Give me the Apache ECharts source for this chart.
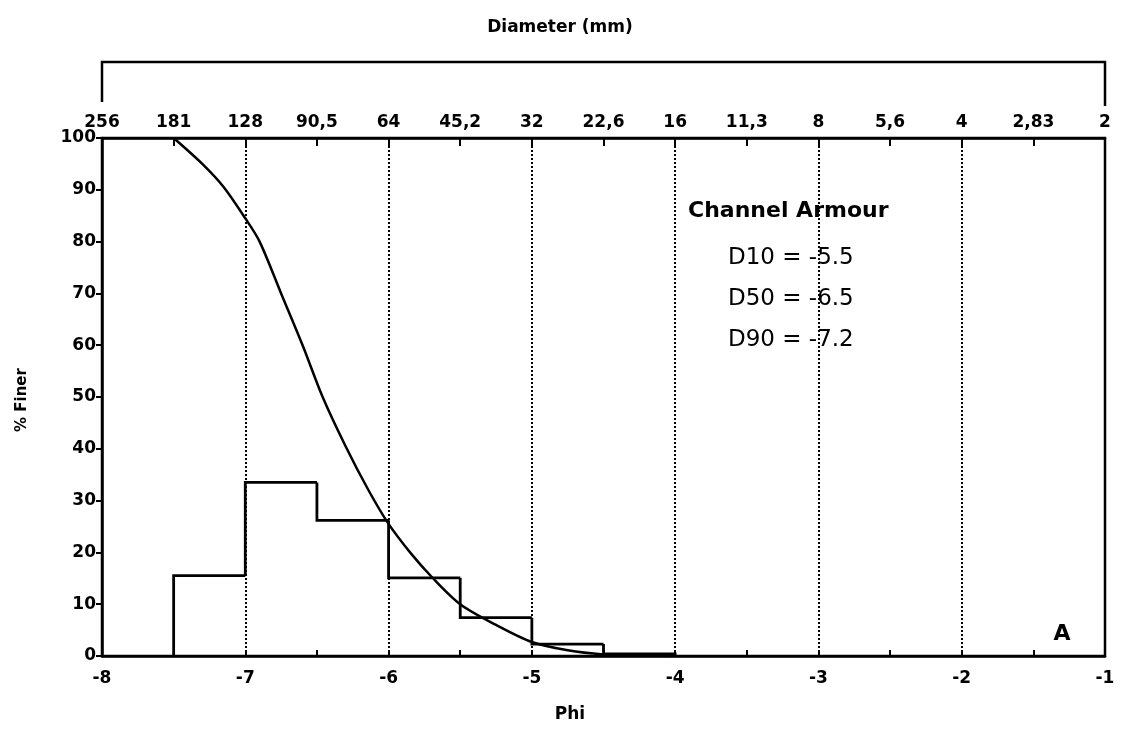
<!DOCTYPE html>
<html>
<head>
<meta charset="utf-8">
<script src="https://cdn.jsdelivr.net/npm/echarts@6/dist/echarts.min.js"></script>
<style>
html,body{margin:0;padding:0;background:#fff;}
#chart{width:1121px;height:737px;}
</style>
</head>
<body>
<div id="chart"></div>
<script>
// ---- data ----
var diameterLabels = ['256','181','128','90,5','64','45,2','32','22,6','16','11,3','8','5,6','4','2,83','2'];
var binStart = [-7.5, -7.0, -6.5, -6.0, -5.5, -5.0, -4.5];
var binEnd   = [-7.0, -6.5, -6.0, -5.5, -5.0, -4.5, -4.0];
var binPct   = [15.5, 33.5, 26.2, 15.1, 7.4, 2.3, 0.4];
var curvePhi = [-7.5, -7.3, -7.15, -7.0, -6.9, -6.75, -6.6, -6.46, -6.3, -6.14, -6.0, -5.85, -5.7, -5.5, -5.25, -5.0, -4.75, -4.5, -4.25, -4.0];
var curveVal = [100, 95, 90.5, 84.5, 80, 70, 60, 50, 40.5, 32, 25.5, 20, 15.3, 10, 6.0, 2.7, 1.1, 0.3, 0.1, 0];
var annotTitle = 'Channel Armour';
var annotLines = ['D10 = -5.5', 'D50 = -6.5', 'D90 = -7.2'];

var FONT = '"DejaVu Sans", sans-serif';
var G = {left: 102, right: 16, top: 138, bottom: 81};
var W = 1121, H = 737;

var histData = binStart.map(function(s, i){
  return [s, binEnd[i], binPct[i], i > 0 ? binPct[i - 1] : 0, i === binStart.length - 1 ? 1 : 0];
});
var curveData = curvePhi.map(function(p, i){ return [p, curveVal[i]]; });

var chart = echarts.init(document.getElementById('chart'), null, {renderer: 'canvas'});
var lbl = {color: '#000', fontFamily: FONT, fontWeight: 'bold', fontSize: 17};

chart.setOption({
  backgroundColor: '#fff',
  animation: false,
  grid: {left: G.left, right: G.right, top: G.top, bottom: G.bottom, show: true, borderColor: '#000', borderWidth: 2.5, backgroundColor: 'transparent'},
  xAxis: [{
    type: 'value', min: -8, max: -1, interval: 1, position: 'bottom',
    axisLine: {show: true, onZero: false, lineStyle: {color: '#000', width: 2.5}},
    axisTick: {show: true, inside: true, length: 6, lineStyle: {color: '#000', width: 2}},
    minorTick: {show: true, splitNumber: 2, length: 6, lineStyle: {color: '#000', width: 2}},
    axisLabel: Object.assign({margin: 14}, lbl),
    splitLine: {show: true, lineStyle: {color: '#000', width: 2, type: [2, 2]}}
  }, {
    type: 'value', min: -8, max: -1, interval: 0.5, position: 'top',
    axisLine: {show: true, onZero: false, lineStyle: {color: '#000', width: 2.5}},
    axisTick: {show: true, inside: true, length: 8, lineStyle: {color: '#000', width: 2}},
    axisLabel: Object.assign({margin: 7, formatter: function(v){ return diameterLabels[Math.round((v + 8) * 2)]; }}, lbl),
    splitLine: {show: false}
  }],
  yAxis: [{
    type: 'value', min: 0, max: 100, interval: 10,
    axisLine: {show: true, lineStyle: {color: '#000', width: 2.5}},
    axisTick: {show: true, inside: false, length: 6, lineStyle: {color: '#000', width: 2}},
    axisLabel: Object.assign({margin: 6}, lbl),
    splitLine: {show: false}
  }],
  series: [{
    type: 'custom',
    xAxisIndex: 0,
    data: histData,
    renderItem: function(params, api){
      var x0 = api.value(0), x1 = api.value(1), v = api.value(2), prev = api.value(3), last = api.value(4);
      var pts = [api.coord([x0, prev]), api.coord([x0, v]), api.coord([x1, v])];
      if (last) pts.push(api.coord([x1, 0]));
      return {
        type: 'polyline',
        shape: {points: pts},
        style: {fill: 'none', stroke: '#000', lineWidth: 2.8}
      };
    },
    z: 3
  }, {
    type: 'line',
    xAxisIndex: 0,
    data: curveData,
    showSymbol: false,
    smooth: 0.3,
    lineStyle: {color: '#000', width: 2.5},
    z: 4
  }],
  graphic: [
    {type: 'polyline', shape: {points: [[G.left, 102], [G.left, 62], [W - G.right, 62], [W - G.right, 106]]}, style: {stroke: '#000', lineWidth: 2.5, fill: 'none'}},
    {type: 'text', x: 560, y: 28, style: {text: 'Diameter (mm)', font: 'bold 17px ' + FONT, fill: '#000', textAlign: 'center', textVerticalAlign: 'middle'}},
    {type: 'text', x: 570, y: 715, style: {text: 'Phi', font: 'bold 17px ' + FONT, fill: '#000', textAlign: 'center', textVerticalAlign: 'middle'}},
    {type: 'text', x: 22, y: 400, rotation: Math.PI / 2, style: {text: '% Finer', font: 'bold 15px ' + FONT, fill: '#000', textAlign: 'center', textVerticalAlign: 'middle'}},
    {type: 'text', x: 688, y: 211, style: {text: annotTitle, font: 'bold 22px ' + FONT, fill: '#000', textAlign: 'left', textVerticalAlign: 'middle'}},
    {type: 'text', x: 728, y: 258, style: {text: annotLines[0], font: '23px ' + FONT, fill: '#000', textAlign: 'left', textVerticalAlign: 'middle'}},
    {type: 'text', x: 728, y: 299, style: {text: annotLines[1], font: '23px ' + FONT, fill: '#000', textAlign: 'left', textVerticalAlign: 'middle'}},
    {type: 'text', x: 728, y: 340, style: {text: annotLines[2], font: '23px ' + FONT, fill: '#000', textAlign: 'left', textVerticalAlign: 'middle'}},
    {type: 'text', x: 1062, y: 634, style: {text: 'A', font: 'bold 22px ' + FONT, fill: '#000', textAlign: 'center', textVerticalAlign: 'middle'}}
  ]
});
</script>
</body>
</html>
